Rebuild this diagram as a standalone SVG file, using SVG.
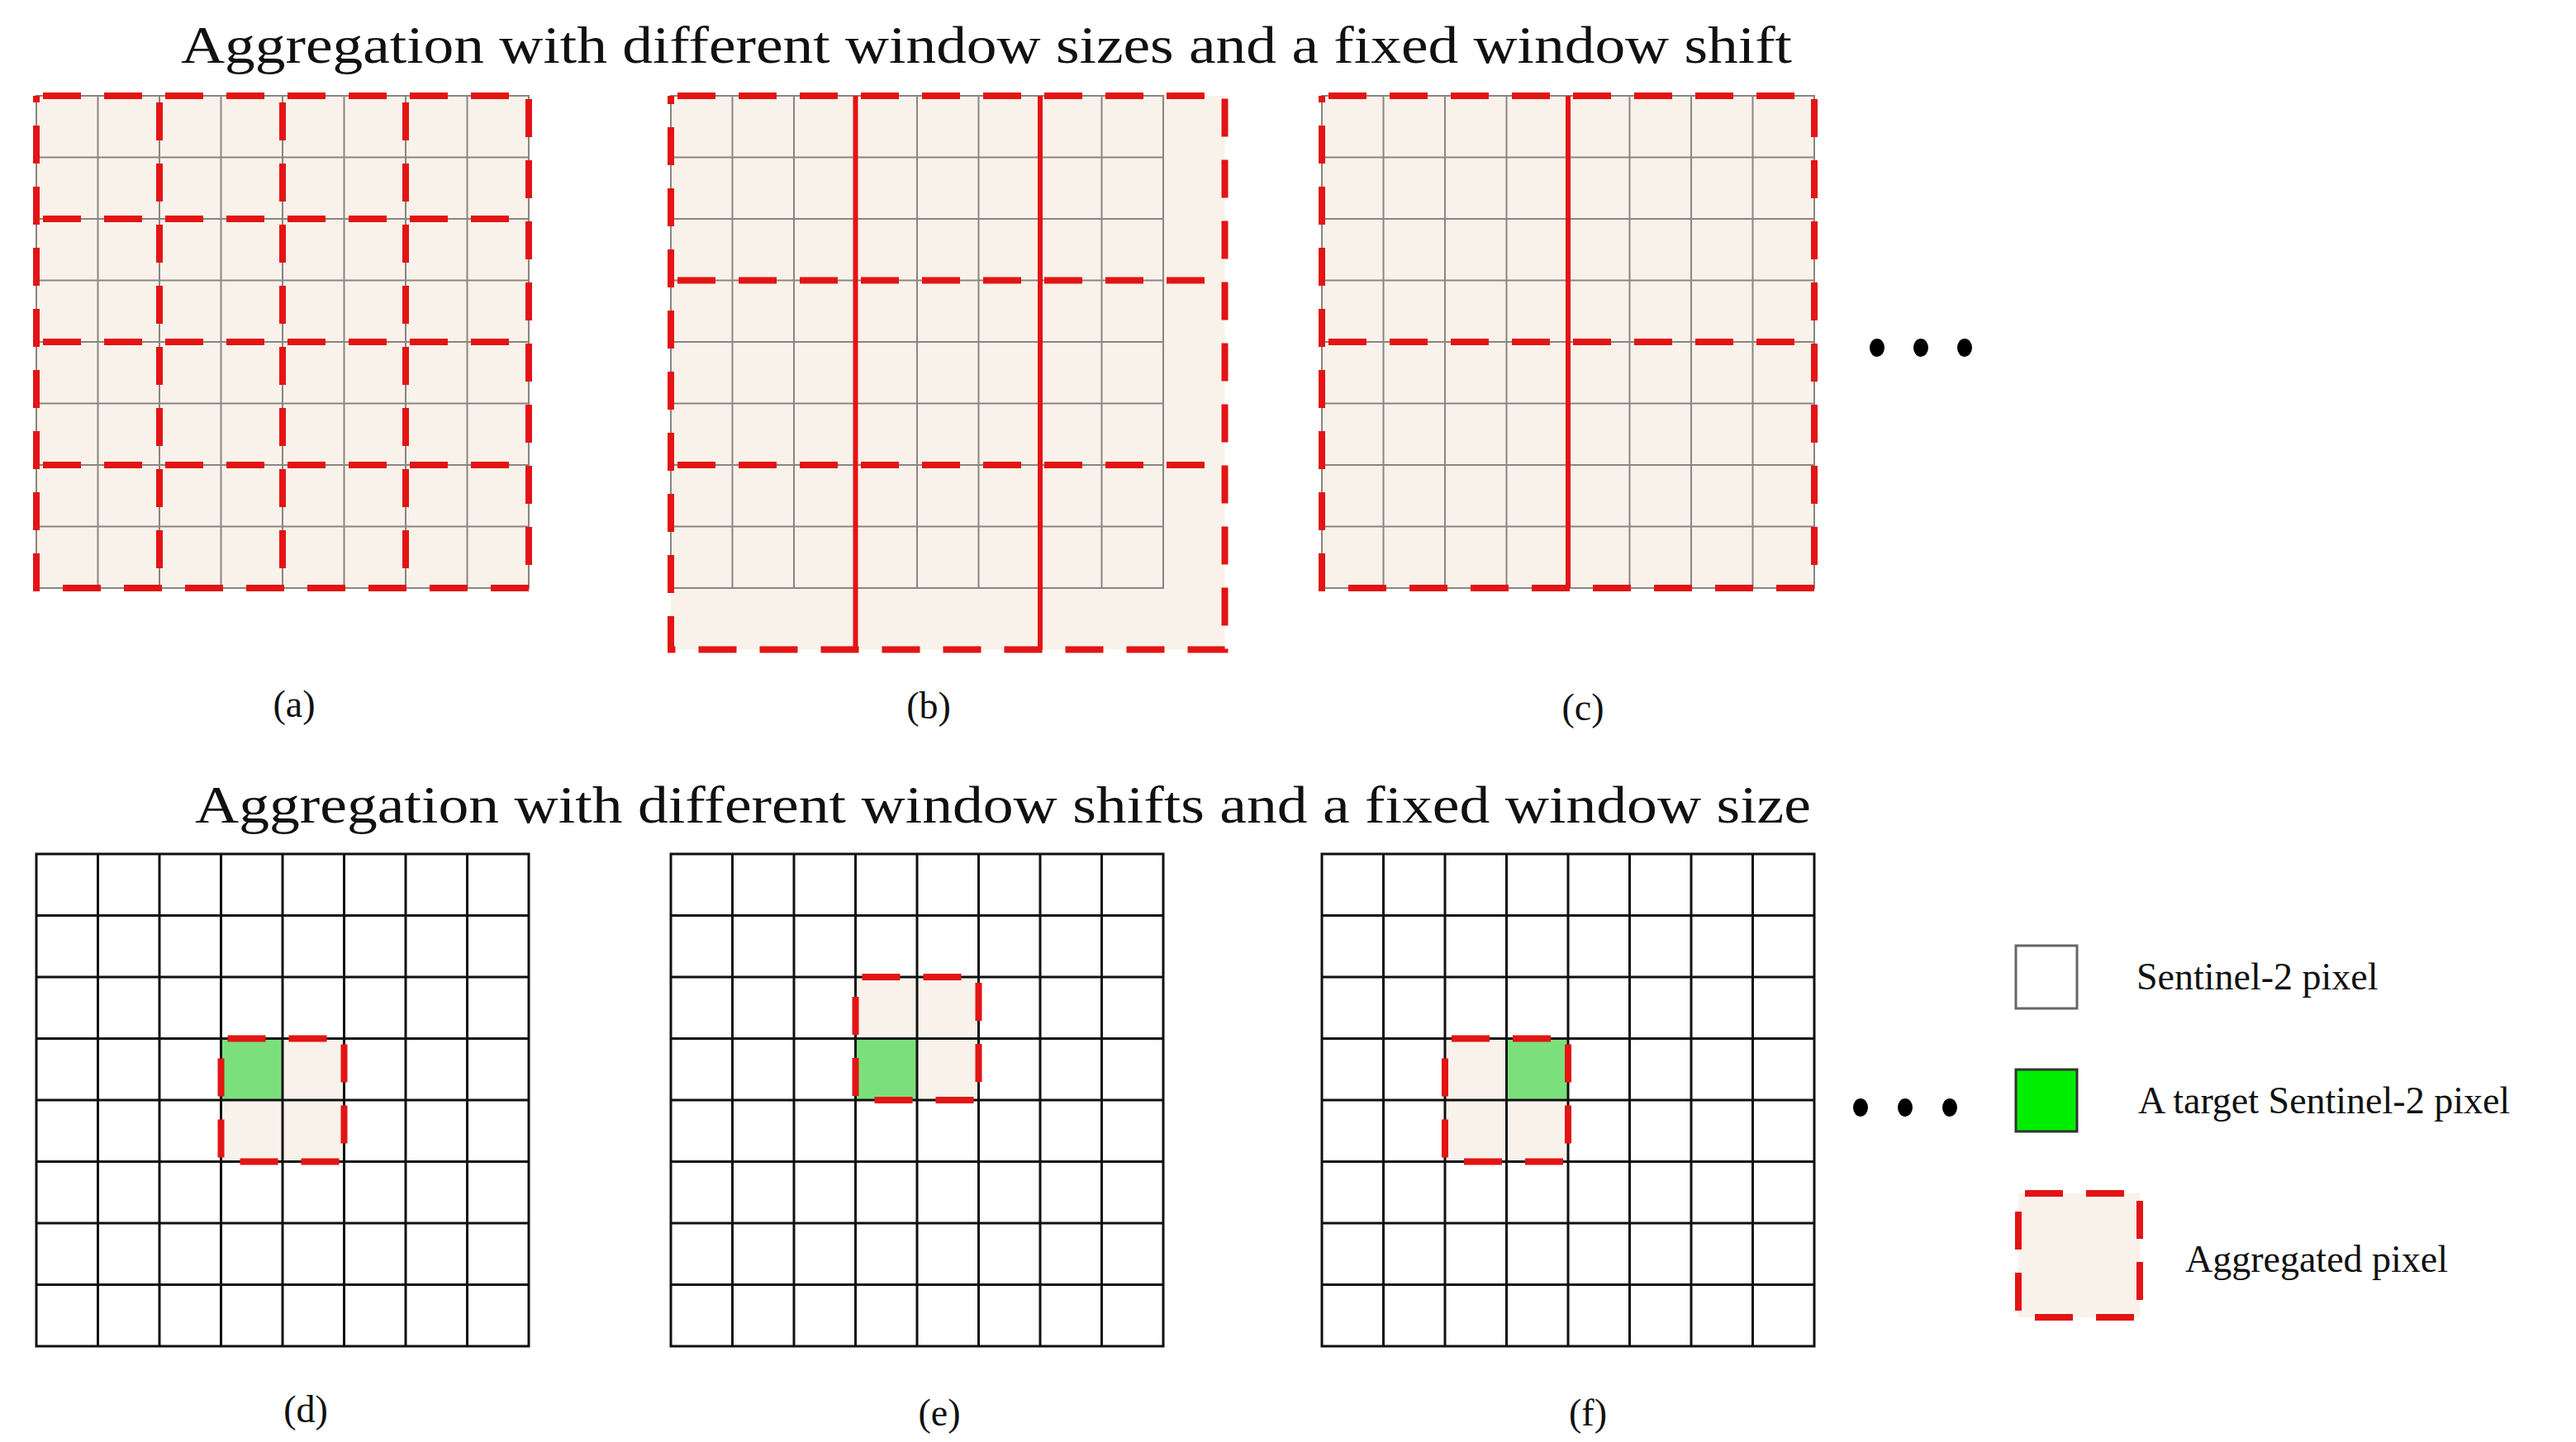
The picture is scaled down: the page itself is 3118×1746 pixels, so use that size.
<svg xmlns="http://www.w3.org/2000/svg" width="3118" height="1746" viewBox="0 0 3118 1746">
<style>
.t{font-family:"Liberation Serif","Times New Roman",serif;fill:#111}
.gl{fill:none;stroke:#8a8580;stroke-width:2}
.gb{fill:none;stroke:#111;stroke-width:3}
.rd{fill:none;stroke:#e31414;stroke-width:8;stroke-dasharray:46 28;stroke-dashoffset:-8}
.rs{fill:none;stroke:#e31414;stroke-width:6}
.bg{fill:#f8f2ea}
.gr{fill:#7be07b}
</style>
<defs>
<path id="grid" d="M0 0H596V596H0Z M74.5 0V596 M149 0V596 M223.5 0V596 M298 0V596 M372.5 0V596 M447 0V596 M521.5 0V596 M0 74.5H596 M0 149H596 M0 223.5H596 M0 298H596 M0 372.5H596 M0 447H596 M0 521.5H596"/>
</defs>
<rect width="3118" height="1746" fill="#fff"/>
<text class="t" x="1194" y="76" font-size="64" text-anchor="middle" textLength="1950" lengthAdjust="spacingAndGlyphs">Aggregation with different window sizes and a fixed window shift</text>
<g id="panel-a" transform="translate(44,116)">
<rect class="bg" width="596" height="596"/>
<use href="#grid" class="gl"/>
<path class="rd" d="M0 0H596V596H0Z M149 0V596 M298 0V596 M447 0V596 M0 149H596 M0 298H596 M0 447H596"/>
</g>
<g id="panel-b" transform="translate(812,116)">
<rect class="bg" width="670.5" height="670.5"/>
<use href="#grid" class="gl"/>
<path class="rd" d="M0 0H670.5V670.5H0Z M0 223.5H670.5 M0 447H670.5"/>
<path class="rs" d="M223.5 0V670.5 M447 0V670.5"/>
</g>
<g id="panel-c" transform="translate(1600,116)">
<rect class="bg" width="596" height="596"/>
<use href="#grid" class="gl"/>
<path class="rd" d="M0 0H596V596H0Z M0 298H596"/>
<path class="rs" d="M298 0V596"/>
</g>
<g id="dots-top" fill="#000">
<ellipse cx="2272" cy="421" rx="9" ry="11"/><ellipse cx="2325" cy="421" rx="9" ry="11"/><ellipse cx="2378" cy="421" rx="9" ry="11"/>
</g>
<text class="t" x="356" y="868" font-size="46" text-anchor="middle">(a)</text>
<text class="t" x="1124" y="870" font-size="46" text-anchor="middle">(b)</text>
<text class="t" x="1916" y="872" font-size="46" text-anchor="middle">(c)</text>
<text class="t" x="1214" y="996" font-size="64" text-anchor="middle" textLength="1956" lengthAdjust="spacingAndGlyphs">Aggregation with different window shifts and a fixed window size</text>
<g id="panel-d" transform="translate(44,1034)">
<rect fill="#fff" width="596" height="596"/>
<rect class="bg" x="223.5" y="223.5" width="149" height="149"/>
<rect class="gr" x="223.5" y="223.5" width="74.5" height="74.5"/>
<use href="#grid" class="gb"/>
<rect class="rd" x="223.5" y="223.5" width="149" height="149" stroke-width="7"/>
</g>
<g id="panel-e" transform="translate(812,1034)">
<rect fill="#fff" width="596" height="596"/>
<rect class="bg" x="223.5" y="149" width="149" height="149"/>
<rect class="gr" x="223.5" y="223.5" width="74.5" height="74.5"/>
<use href="#grid" class="gb"/>
<rect class="rd" x="223.5" y="149" width="149" height="149" stroke-width="7"/>
</g>
<g id="panel-f" transform="translate(1600,1034)">
<rect fill="#fff" width="596" height="596"/>
<rect class="bg" x="149" y="223.5" width="149" height="149"/>
<rect class="gr" x="223.5" y="223.5" width="74.5" height="74.5"/>
<use href="#grid" class="gb"/>
<rect class="rd" x="149" y="223.5" width="149" height="149" stroke-width="7"/>
</g>
<g id="dots-bottom" fill="#000">
<ellipse cx="2252" cy="1341" rx="9" ry="11"/><ellipse cx="2306" cy="1341" rx="9" ry="11"/><ellipse cx="2360" cy="1341" rx="9" ry="11"/>
</g>
<text class="t" x="370" y="1722" font-size="46" text-anchor="middle">(d)</text>
<text class="t" x="1137" y="1726" font-size="46" text-anchor="middle">(e)</text>
<text class="t" x="1922" y="1726" font-size="46" text-anchor="middle">(f)</text>
<g id="legend">
<rect x="2440" y="1145" width="74" height="76" fill="#fff" stroke="#666" stroke-width="3"/>
<text class="t" x="2586" y="1198" font-size="46">Sentinel-2 pixel</text>
<rect x="2440" y="1295" width="74" height="75" fill="#00ee00" stroke="#333" stroke-width="3"/>
<text class="t" x="2588" y="1348" font-size="46">A target Sentinel-2 pixel</text>
<rect class="bg" x="2443" y="1445" width="147" height="150"/>
<rect class="rd" x="2443" y="1445" width="147" height="150" stroke-width="7"/>
<text class="t" x="2645" y="1540" font-size="46">Aggregated pixel</text>
</g>
</svg>
